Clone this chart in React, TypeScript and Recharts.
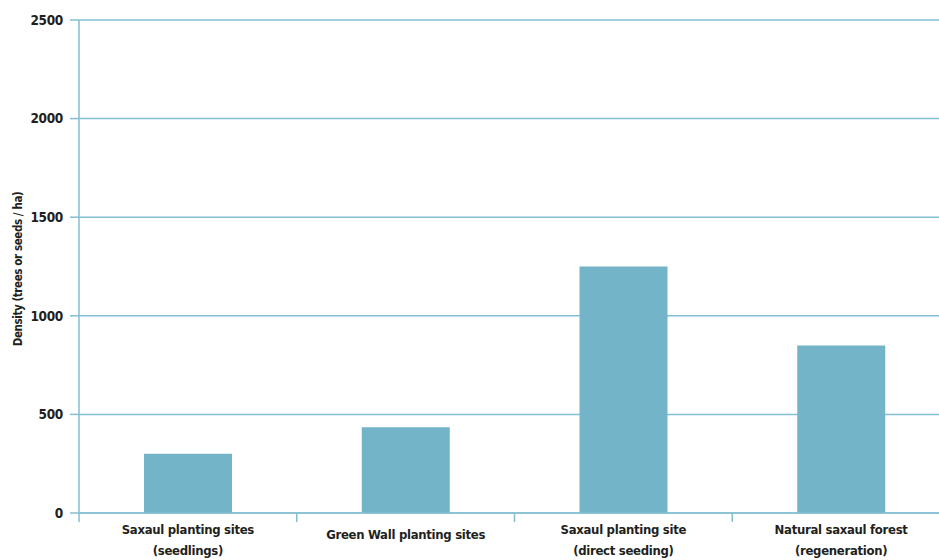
import { BarChart, Bar, XAxis, YAxis, CartesianGrid } from 'recharts'

const CATEGORIES = [
  ['Saxaul planting sites', '(seedlings)'],
  ['Green Wall planting sites'],
  ['Saxaul planting site', '(direct seeding)'],
  ['Natural saxaul forest', '(regeneration)'],
]
const DENSITY = [300, 435, 1250, 850]
const Y_TICKS = [0, 500, 1000, 1500, 2000, 2500]

const LINE = '#84bfd2'
const BAR = '#74b4c8'
const TEXT = '#231f20'
const FONT = "'DejaVu Sans Condensed', 'Liberation Sans Narrow', sans-serif"

const data = CATEGORIES.map((lines, i) => ({ name: lines.join('\n'), density: DENSITY[i] }))

// label plus a tick mark on the left edge of each band
function CategoryTick({ x, y, payload }: any) {
  const lines = String(payload.value).split('\n')
  const bx = x - (payload.offset ?? 0)
  const startY = lines.length > 1 ? y + 21 : y + 26
  return (
    <g>
      <line x1={bx} y1={y} x2={bx} y2={y + 9} stroke={LINE} strokeWidth={1.5} />
      <text
        x={x}
        y={startY}
        textAnchor="middle"
        fill={TEXT}
        fontFamily={FONT}
        fontWeight="bold"
        fontSize={13}
        letterSpacing={-0.3}
      >
        {lines.map((l, i) => (
          <tspan key={i} x={x} dy={i === 0 ? 0 : 21}>
            {l}
          </tspan>
        ))}
      </text>
    </g>
  )
}

export default function App() {
  return (
    <div style={{ position: 'absolute', left: 0, top: 0, width: 939, height: 560, overflow: 'hidden', background: '#fff' }}>
      <BarChart width={950} height={560} data={data} margin={{ top: 20, right: 0, left: 0, bottom: 0 }}>
        <CartesianGrid horizontal vertical={false} stroke={LINE} strokeWidth={1.5} />
        <XAxis
          dataKey="name"
          height={47}
          tick={<CategoryTick />}
          tickLine={false}
          tickSize={0}
          tickMargin={0}
          axisLine={{ stroke: LINE, strokeWidth: 1.5 }}
          interval={0}
        />
        <YAxis
          width={79}
          domain={[0, 2500]}
          ticks={Y_TICKS}
          tickSize={9}
          tickMargin={7}
          tickLine={{ stroke: LINE, strokeWidth: 1.5 }}
          axisLine={{ stroke: LINE, strokeWidth: 1.5 }}
          tick={{ fill: TEXT, fontFamily: FONT, fontWeight: 'bold', fontSize: 13.5, letterSpacing: -0.3 }}
          label={{
            content: () => (
              <text
                x={22}
                y={269}
                transform="rotate(-90 22 269)"
                textAnchor="middle"
                fill={TEXT}
                fontFamily={FONT}
                fontWeight="bold"
                fontSize={11.5}
                letterSpacing={-0.4}
              >
                Density (trees or seeds / ha)
              </text>
            ),
          }}
        />
        <Bar dataKey="density" fill={BAR} barSize={88} isAnimationActive={false} />
      </BarChart>
    </div>
  )
}
